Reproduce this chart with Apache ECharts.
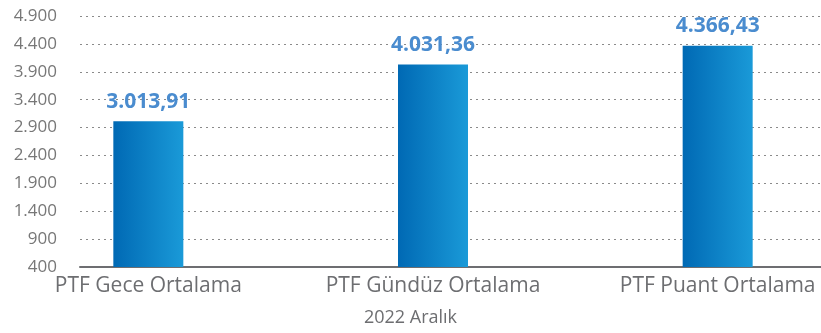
<!DOCTYPE html>
<html>
<head>
<meta charset="utf-8">
<script src="https://cdn.jsdelivr.net/npm/echarts@6/dist/echarts.min.js"></script>
<style>
  html, body { margin: 0; padding: 0; background: #ffffff; }
  #chart { width: 821px; height: 333px; }
</style>
</head>
<body>
<div id="chart"></div>
<script>
// Monthly PTF averages (TL/MWh)
const categories = ['PTF Gece Ortalama', 'PTF Gündüz Ortalama', 'PTF Puant Ortalama'];
const values = [3013.91, 4031.36, 4366.43];
const yTicks = [400, 900, 1400, 1900, 2400, 2900, 3400, 3900, 4400, 4900];
const periodLabel = '2022 Aralık';

// Turkish number format: dot for thousands, comma for decimals
function fmtTR(v, decimals) {
  const fixed = Number(v).toFixed(decimals);
  const parts = fixed.split('.');
  const intPart = parts[0].replace(/\B(?=(\d{3})+(?!\d))/g, '.');
  return parts.length > 1 ? intPart + ',' + parts[1] : intPart;
}

const yMin = yTicks[0];
const yMax = yTicks[yTicks.length - 1];
const fontFamily = '"Open Sans", "Noto Sans", sans-serif';

const chart = echarts.init(document.getElementById('chart'), null, { renderer: 'canvas' });

chart.setOption({
  animation: false,
  backgroundColor: '#ffffff',
  title: {
    text: periodLabel,
    left: 'center',
    bottom: 1,
    textStyle: { fontFamily, fontSize: 18, fontWeight: 'normal', color: '#6d6e71' }
  },
  grid: [
    // frame: value labels, dotted gridlines and baseline
    { left: 80, right: 0, top: 16, bottom: 66, containLabel: false, outerBoundsMode: 'none' },
    // bars and category labels (plot band is wider than the frame)
    { left: 6, width: 854, top: 16, bottom: 66, containLabel: false, outerBoundsMode: 'none' }
  ],
  xAxis: [
    {
      gridIndex: 0, type: 'value', min: 0, max: 1,
      axisLine: { show: true, onZero: false, lineStyle: { color: '#6d6e71', width: 2 } },
      axisTick: { show: false }, axisLabel: { show: false }, splitLine: { show: false }
    },
    {
      gridIndex: 1, type: 'category', data: categories,
      axisLine: { show: false }, axisTick: { show: false },
      axisLabel: { fontFamily, fontSize: 21, color: '#6d6e71', margin: 9, interval: 0 }
    }
  ],
  yAxis: [
    {
      gridIndex: 0, type: 'value', min: yMin, max: yMax, interval: 500,
      axisLine: { show: false },
      axisTick: { show: false, customValues: yTicks },
      axisLabel: {
        customValues: yTicks,
        fontFamily, fontSize: 17, color: '#777777', margin: 23,
        formatter: v => fmtTR(v, 0)
      },
      splitLine: { show: true, lineStyle: { color: '#8a8a8a', type: [2, 4], width: 1 } }
    },
    {
      gridIndex: 1, type: 'value', min: yMin, max: yMax, show: false,
      splitLine: { show: false }
    }
  ],
  series: [
    {
      type: 'bar',
      xAxisIndex: 1, yAxisIndex: 1,
      data: values,
      barWidth: 70,
      itemStyle: {
        color: new echarts.graphic.LinearGradient(0, 0, 1, 0, [
          { offset: 0, color: '#0069b4' },
          { offset: 1, color: '#1a9ad8' }
        ])
      },
      label: {
        show: true, position: 'top', distance: 9,
        fontFamily, fontSize: 21, fontWeight: 'bold', color: '#4a8ccf',
        formatter: p => fmtTR(p.value, 2)
      }
    }
  ]
});
</script>
</body>
</html>
